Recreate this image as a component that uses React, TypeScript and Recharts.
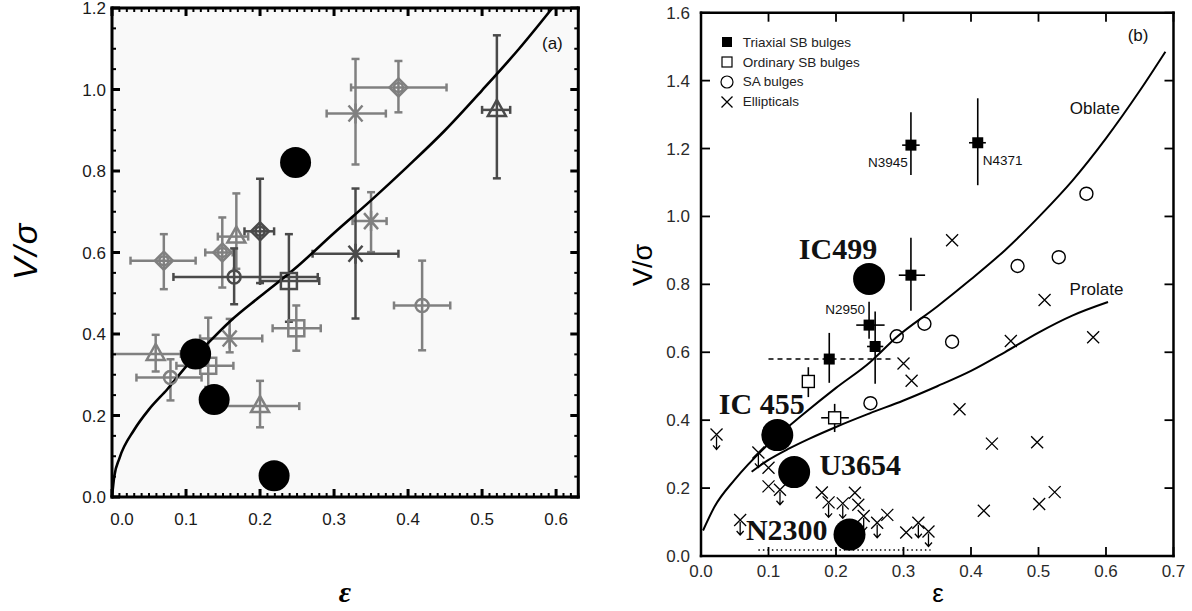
import React from 'react';
import { ComposedChart, Scatter, Line, XAxis, YAxis, ErrorBar, CartesianGrid, Legend } from 'recharts';

const FONT = '"Liberation Sans", Arial, Helvetica, sans-serif';
const SERIF = '"Liberation Serif", "Times New Roman", serif';
const GRAY = '#808080';
const DARK = '#4a4a4a';
const THIN = 0.01; // axes need a non-zero box to be drawn

// rows: [eps, V/sigma, epsLo, epsHi, vLo, vHi]
type Row = [number, number, number, number, number, number];
type Pt = { x: number; y: number };
type Note = { x: number; y: number; label: string };

// ---------------- panel (a) ----------------
const xTicksA = [0, 0.1, 0.2, 0.3, 0.4, 0.5, 0.6];
const yTicksA = [0, 0.2, 0.4, 0.6, 0.8, 1.0, 1.2];

const grayDiamondsA: Row[] = [
  [0.387, 1.005, 0.323, 0.452, 0.944, 1.07],
  [0.07, 0.58, 0.025, 0.113, 0.51, 0.645],
  [0.149, 0.6, 0.126, 0.163, 0.514, 0.686],
];
const darkDiamondsA: Row[] = [[0.2, 0.652, 0.179, 0.219, 0.525, 0.781]];
const grayTrianglesA: Row[] = [
  [0.168, 0.639, 0.143, 0.184, 0.56, 0.745],
  [0.059, 0.351, 0.0, 0.093, 0.308, 0.398],
  [0.2, 0.223, 0.15, 0.253, 0.171, 0.285],
];
const darkTrianglesA: Row[] = [[0.52, 0.95, 0.5, 0.538, 0.782, 1.133]];
const grayStarsA: Row[] = [
  [0.329, 0.941, 0.29, 0.37, 0.816, 1.075],
  [0.35, 0.677, 0.325, 0.371, 0.601, 0.748],
  [0.159, 0.389, 0.119, 0.203, 0.355, 0.437],
];
const darkStarsA: Row[] = [[0.329, 0.597, 0.271, 0.387, 0.438, 0.757]];
const grayCirclesA: Row[] = [
  [0.079, 0.293, 0.033, 0.121, 0.237, 0.338],
  [0.419, 0.47, 0.381, 0.457, 0.36, 0.58],
];
const darkCirclesA: Row[] = [[0.165, 0.54, 0.083, 0.278, 0.473, 0.61]];
const graySquaresA: Row[] = [
  [0.249, 0.414, 0.217, 0.282, 0.359, 0.47],
  [0.13, 0.322, 0.087, 0.164, 0.27, 0.44],
];
const darkSquaresA: Row[] = [[0.239, 0.53, 0.2, 0.28, 0.43, 0.645]];
const galaxiesA: Pt[] = [
  { x: 0.248, y: 0.821 },
  { x: 0.113, y: 0.351 },
  { x: 0.138, y: 0.239 },
  { x: 0.219, y: 0.052 },
];
const oblateA: Pt[] = [
  { x: 0, y: 0 }, { x: 0.003, y: 0.05 }, { x: 0.01, y: 0.095 }, { x: 0.03, y: 0.165 },
  { x: 0.05, y: 0.215 }, { x: 0.075, y: 0.265 }, { x: 0.1, y: 0.32 }, { x: 0.13, y: 0.378 },
  { x: 0.16, y: 0.432 }, { x: 0.2, y: 0.492 }, { x: 0.25, y: 0.565 }, { x: 0.3, y: 0.648 },
  { x: 0.35, y: 0.728 }, { x: 0.4, y: 0.812 }, { x: 0.45, y: 0.9 }, { x: 0.5, y: 0.998 },
  { x: 0.55, y: 1.1 }, { x: 0.595, y: 1.2 },
];
const notesA: Note[] = [{ x: 0.595, y: 1.113, label: '(a)' }];

// ---------------- panel (b) ----------------
const xTicksB = [0, 0.1, 0.2, 0.3, 0.4, 0.5, 0.6, 0.7];
const yTicksB = [0, 0.2, 0.4, 0.6, 0.8, 1.0, 1.2, 1.4, 1.6];

const triaxialB: Row[] = [
  [0.311, 1.21, 0.298, 0.324, 1.122, 1.307],
  [0.41, 1.217, 0.397, 0.422, 1.092, 1.348],
  [0.311, 0.827, 0.293, 0.332, 0.722, 0.937],
  [0.249, 0.68, 0.23, 0.272, 0.64, 0.749],
  [0.258, 0.617, 0.246, 0.27, 0.507, 0.72],
  [0.19, 0.58, 0.19, 0.19, 0.51, 0.657],
];
const triaxialDashedB: Row[] = [[0.19, 0.58, 0.1, 0.282, 0.58, 0.58]];
const ordinaryB: Row[] = [
  [0.159, 0.514, 0.159, 0.159, 0.468, 0.556],
  [0.198, 0.407, 0.178, 0.219, 0.365, 0.448],
];
const saBulgesB: Pt[] = [
  { x: 0.571, y: 1.067 }, { x: 0.469, y: 0.854 }, { x: 0.53, y: 0.88 }, { x: 0.331, y: 0.684 },
  { x: 0.372, y: 0.631 }, { x: 0.29, y: 0.647 }, { x: 0.251, y: 0.45 },
];
const ellipticalsB: Pt[] = [
  { x: 0.372, y: 0.93 }, { x: 0.509, y: 0.754 }, { x: 0.459, y: 0.633 }, { x: 0.581, y: 0.644 },
  { x: 0.3, y: 0.567 }, { x: 0.312, y: 0.516 }, { x: 0.383, y: 0.432 }, { x: 0.431, y: 0.331 },
  { x: 0.498, y: 0.335 }, { x: 0.524, y: 0.188 }, { x: 0.501, y: 0.153 }, { x: 0.419, y: 0.133 },
  { x: 0.1, y: 0.26 }, { x: 0.1, y: 0.205 }, { x: 0.179, y: 0.187 }, { x: 0.228, y: 0.186 },
  { x: 0.233, y: 0.151 }, { x: 0.276, y: 0.121 }, { x: 0.304, y: 0.069 },
];
const ellipticalLimitsB: Pt[] = [
  { x: 0.023, y: 0.358 }, { x: 0.085, y: 0.305 }, { x: 0.117, y: 0.195 }, { x: 0.058, y: 0.106 },
  { x: 0.189, y: 0.158 }, { x: 0.21, y: 0.155 }, { x: 0.241, y: 0.118 }, { x: 0.261, y: 0.098 },
  { x: 0.322, y: 0.098 }, { x: 0.337, y: 0.072 },
];
const n2300RangeB: Row[] = [[0.2125, 0.018, 0.085, 0.34, 0.018, 0.018]];
const galaxiesB: Pt[] = [
  { x: 0.249, y: 0.816 },
  { x: 0.113, y: 0.356 },
  { x: 0.138, y: 0.247 },
  { x: 0.22, y: 0.063 },
];
const oblateB: Pt[] = [
  { x: 0.003, y: 0.075 }, { x: 0.02, y: 0.145 }, { x: 0.05, y: 0.225 }, { x: 0.1, y: 0.33 },
  { x: 0.15, y: 0.415 }, { x: 0.2, y: 0.495 }, { x: 0.25, y: 0.57 }, { x: 0.29, y: 0.645 },
  { x: 0.35, y: 0.735 }, { x: 0.4, y: 0.815 }, { x: 0.45, y: 0.9 }, { x: 0.503, y: 1.004 },
  { x: 0.55, y: 1.105 }, { x: 0.6, y: 1.23 }, { x: 0.65, y: 1.37 }, { x: 0.688, y: 1.485 },
];
const prolateB: Pt[] = [
  { x: 0.075, y: 0.248 }, { x: 0.1, y: 0.283 }, { x: 0.13, y: 0.316 }, { x: 0.16, y: 0.345 },
  { x: 0.2, y: 0.38 }, { x: 0.25, y: 0.42 }, { x: 0.3, y: 0.458 }, { x: 0.35, y: 0.5 },
  { x: 0.4, y: 0.545 }, { x: 0.45, y: 0.6 }, { x: 0.5, y: 0.658 }, { x: 0.55, y: 0.708 },
  { x: 0.603, y: 0.748 },
];
const bigNamesB: Note[] = [
  { x: 0.203, y: 0.906, label: 'IC499' },
  { x: 0.09, y: 0.45, label: 'IC 455' },
  { x: 0.236, y: 0.268, label: 'U3654' },
  { x: 0.127, y: 0.077, label: 'N2300' },
];
const smallNamesB: Note[] = [
  { x: 0.277, y: 1.158, label: 'N3945' },
  { x: 0.447, y: 1.164, label: 'N4371' },
  { x: 0.2135, y: 0.727, label: 'N2950' },
];
const curveNamesB: Note[] = [
  { x: 0.5835, y: 1.317, label: 'Oblate' },
  { x: 0.586, y: 0.784, label: 'Prolate' },
  { x: 0.6475, y: 1.532, label: '(b)' },
];
const legendB = [
  { label: 'Triaxial SB bulges', kind: 'filled' },
  { label: 'Ordinary SB bulges', kind: 'open' },
  { label: 'SA bulges', kind: 'circle' },
  { label: 'Ellipticals', kind: 'cross' },
];

// ---------------- helpers ----------------
const toErr = (rows: Row[]) =>
  rows.map(([x, y, xLo, xHi, yLo, yHi]) => ({ x, y, ex: [x - xLo, xHi - x], ey: [y - yLo, yHi - y] }));

const steps = (from: number, to: number, step: number) => {
  const out: number[] = [];
  for (let v = from; v <= to + 1e-9; v += step) out.push(+v.toFixed(3));
  return out;
};
const isIn = (list: number[]) => (v: number) => list.some((t) => Math.abs(t - v) < 1e-6);
const none = () => <g />;

type Style = {
  left: number; bottom: number; majLen: number; minLen: number; majW: number; minW: number;
  xGap: number; yGap: number; zeroShift: number; fontSize: number; color: string;
};
const styleA: Style = {
  left: 112, bottom: 497, majLen: 8, minLen: 4, majW: 3, minW: 2,
  xGap: 16, yGap: 6, zeroShift: 10, fontSize: 17, color: '#1a1a1a',
};
const styleB: Style = {
  left: 101, bottom: 556, majLen: 9, minLen: 9, majW: 1.8, minW: 1.8,
  xGap: 9, yGap: 11, zeroShift: 0, fontSize: 17, color: '#2a2a2a',
};

// tick labels (major values only)
const xLabel = (s: Style, isMajor: (v: number) => boolean) => (p: any) => {
  const v = p.payload.value as number;
  if (!isMajor(v)) return <g />;
  return (
    <text x={p.x + (v === 0 ? s.zeroShift : 0)} y={s.bottom + s.xGap} dy="0.71em" textAnchor="middle"
      fontFamily={FONT} fontSize={s.fontSize} fill={s.color}>{v.toFixed(1)}</text>
  );
};
const yLabel = (s: Style, isMajor: (v: number) => boolean) => (p: any) => {
  const v = p.payload.value as number;
  if (!isMajor(v)) return <g />;
  return (
    <text x={s.left - s.yGap} y={p.y} dy="0.355em" textAnchor="end"
      fontFamily={FONT} fontSize={s.fontSize} fill={s.color}>{v.toFixed(1)}</text>
  );
};

// inward tick marks on the four frame edges, placed through the chart scales
const edgeMark = (side: string, s: Style) => ({ cx = 0, cy = 0, payload }: any) => {
  const len = payload.major ? s.majLen : s.minLen;
  const w = payload.major ? s.majW : s.minW;
  const d = side === 'b' ? `M${cx},${cy}V${cy - len}`
    : side === 't' ? `M${cx},${cy}V${cy + len}`
    : side === 'l' ? `M${cx},${cy}H${cx + len}`
    : `M${cx},${cy}H${cx - len}`;
  return <path d={d} stroke="#000" strokeWidth={w} fill="none" />;
};
const edgeTicks = (
  xd: number[], yd: number[], xs: number[], ys: number[],
  isMajX: (v: number) => boolean, isMajY: (v: number) => boolean, s: Style
) => {
  const bottom = xs.map((v) => ({ x: v, y: yd[0], major: isMajX(v) }));
  const top = xs.map((v) => ({ x: v, y: yd[1], major: isMajX(v) }));
  const left = ys.map((v) => ({ x: xd[0], y: v, major: isMajY(v) }));
  const right = ys.map((v) => ({ x: xd[1], y: v, major: isMajY(v) }));
  return [
    <Scatter key="eb" xAxisId="x" yAxisId="y" data={bottom} shape={edgeMark('b', s)} isAnimationActive={false} />,
    <Scatter key="et" xAxisId="x" yAxisId="y" data={top} shape={edgeMark('t', s)} isAnimationActive={false} />,
    <Scatter key="el" xAxisId="x" yAxisId="y" data={left} shape={edgeMark('l', s)} isAnimationActive={false} />,
    <Scatter key="er" xAxisId="x" yAxisId="y" data={right} shape={edgeMark('r', s)} isAnimationActive={false} />,
  ];
};

// top and right frame edges
const frameAxes = (xd: number[], yd: number[], sw: number) => {
  const al: any = { stroke: '#000', strokeWidth: sw, strokeLinecap: 'square' };
  return [
    <XAxis key="ft" xAxisId="ft" orientation="top" type="number" dataKey="x" domain={xd} height={THIN}
      tick={false} tickLine={false} axisLine={al} />,
    <YAxis key="fr" yAxisId="fr" orientation="right" type="number" dataKey="y" domain={yd} width={THIN}
      tick={false} tickLine={false} axisLine={al} />,
  ];
};

// ---------------- marker shapes ----------------
const diamondA = (c: string) => ({ cx = 0, cy = 0 }: any) => (
  <g stroke={c} strokeWidth={2.5} fill="none">
    <path d={`M${cx},${cy - 9}L${cx + 9},${cy}L${cx},${cy + 9}L${cx - 9},${cy}Z`} />
    <circle cx={cx} cy={cy} r={4.5} />
  </g>
);
const triangleA = (c: string) => ({ cx = 0, cy = 0 }: any) => (
  <path d={`M${cx},${cy - 10}L${cx + 9},${cy + 6}L${cx - 9},${cy + 6}Z`} stroke={c} strokeWidth={2.5} fill="none" />
);
const starA = (c: string) => ({ cx = 0, cy = 0 }: any) => (
  <path d={`M${cx - 7},${cy - 8}L${cx + 7},${cy + 8}M${cx + 7},${cy - 8}L${cx - 7},${cy + 8}M${cx},${cy - 10}L${cx},${cy + 10}`}
    stroke={c} strokeWidth={2.5} fill="none" />
);
const squareA = (c: string) => ({ cx = 0, cy = 0 }: any) => (
  <rect x={cx - 8} y={cy - 8} width={16} height={16} stroke={c} strokeWidth={2.5} fill="none" />
);
const circleA = (c: string) => ({ cx = 0, cy = 0 }: any) => (
  <circle cx={cx} cy={cy} r={6.5} stroke={c} strokeWidth={2.5} fill="none" />
);
const galaxy = (r: number) => ({ cx = 0, cy = 0 }: any) => <circle cx={cx} cy={cy} r={r} fill="#000" />;

const filledSq = ({ cx = 0, cy = 0 }: any) => <rect x={cx - 5.5} y={cy - 5.5} width={11} height={11} fill="#000" />;
const openSq = ({ cx = 0, cy = 0 }: any) => (
  <rect x={cx - 6} y={cy - 6} width={12} height={12} fill="#fff" stroke="#000" strokeWidth={1.4} />
);
const openCircle = ({ cx = 0, cy = 0 }: any) => (
  <circle cx={cx} cy={cy} r={6.5} fill="none" stroke="#000" strokeWidth={1.4} />
);
const cross = ({ cx = 0, cy = 0 }: any) => (
  <path d={`M${cx - 6},${cy - 6}L${cx + 6},${cy + 6}M${cx + 6},${cy - 6}L${cx - 6},${cy + 6}`} stroke="#000" strokeWidth={1.3} />
);
const crossLimit = ({ cx = 0, cy = 0 }: any) => (
  <path
    d={`M${cx - 6},${cy - 6}L${cx + 6},${cy + 6}M${cx + 6},${cy - 6}L${cx - 6},${cy + 6}M${cx},${cy + 2}L${cx},${cy + 15}M${cx - 3.5},${cy + 11}L${cx},${cy + 15}L${cx + 3.5},${cy + 11}`}
    stroke="#000" strokeWidth={1.3} fill="none" />
);
const textShape = (size: number, family: string, weight: string, color: string) => ({ cx = 0, cy = 0, payload }: any) => (
  <text x={cx} y={cy} textAnchor="middle" dominantBaseline="central" fontFamily={family}
    fontWeight={weight} fontSize={size} fill={color}>{payload.label}</text>
);

const seriesA = [
  { rows: grayDiamondsA, color: GRAY, shape: diamondA },
  { rows: grayTrianglesA, color: GRAY, shape: triangleA },
  { rows: grayStarsA, color: GRAY, shape: starA },
  { rows: grayCirclesA, color: GRAY, shape: circleA },
  { rows: graySquaresA, color: GRAY, shape: squareA },
  { rows: darkDiamondsA, color: DARK, shape: diamondA },
  { rows: darkTrianglesA, color: DARK, shape: triangleA },
  { rows: darkStarsA, color: DARK, shape: starA },
  { rows: darkCirclesA, color: DARK, shape: circleA },
  { rows: darkSquaresA, color: DARK, shape: squareA },
];

function PanelA() {
  const xd = [0, 0.63];
  const yd = [0, 1.2];
  const axisLine: any = { stroke: '#000', strokeWidth: 3, strokeLinecap: 'square' };
  return (
    <ComposedChart width={600} height={611} margin={{ top: 8, right: 21.7, bottom: 114, left: 112 }}>
      <CartesianGrid xAxisId="x" yAxisId="y" horizontal={false} vertical={false} fill="#f9f9f9" stroke="none" />
      <XAxis xAxisId="x" type="number" dataKey="x" domain={xd} ticks={xTicksA} interval={0} height={THIN}
        tickSize={0} tickMargin={0} tickLine={false} tick={xLabel(styleA, isIn(xTicksA))} axisLine={axisLine} />
      <YAxis yAxisId="y" type="number" dataKey="y" domain={yd} ticks={yTicksA} interval={0} width={THIN}
        tickSize={0} tickMargin={0} tickLine={false} tick={yLabel(styleA, isIn(yTicksA))} axisLine={axisLine} />
      {frameAxes(xd, yd, 3)}
      {edgeTicks(xd, yd, steps(0, 0.63, 0.01), steps(0, 1.2, 0.05), isIn(xTicksA), isIn(yTicksA), styleA)}
      {seriesA.map((s, i) => (
        <Scatter key={i} xAxisId="x" yAxisId="y" data={toErr(s.rows)} shape={s.shape(s.color)} isAnimationActive={false}>
          <ErrorBar dataKey="ex" direction="x" width={4} stroke={s.color} strokeWidth={2.5} />
          <ErrorBar dataKey="ey" direction="y" width={4} stroke={s.color} strokeWidth={2.5} />
        </Scatter>
      ))}
      <Line xAxisId="x" yAxisId="y" data={oblateA} dataKey="y" type="monotone" stroke="#000" strokeWidth={2.6}
        dot={false} isAnimationActive={false} />
      <Scatter xAxisId="x" yAxisId="y" data={galaxiesA} shape={galaxy(15.5)} isAnimationActive={false} />
      <Scatter xAxisId="x" yAxisId="y" data={notesA} shape={textShape(17, FONT, 'normal', '#111')} isAnimationActive={false} />
    </ComposedChart>
  );
}

const LegendSymbol = ({ kind }: { kind: string }) => (
  <svg width={16} height={16} style={{ display: 'block' }}>
    {kind === 'filled' && <rect x={3} y={3} width={10} height={10} fill="#000" />}
    {kind === 'open' && <rect x={3} y={3} width={10} height={10} fill="#fff" stroke="#000" strokeWidth={1.2} />}
    {kind === 'circle' && <circle cx={8} cy={8} r={6} fill="none" stroke="#000" strokeWidth={1.2} />}
    {kind === 'cross' && <path d="M2.5,2.5L13.5,13.5M13.5,2.5L2.5,13.5" stroke="#000" strokeWidth={1.3} />}
  </svg>
);

const LegendContentB = () => (
  <div style={{ fontFamily: FONT, fontSize: 13.5, color: '#222' }}>
    {legendB.map((it) => (
      <div key={it.label} style={{ display: 'flex', alignItems: 'center', height: 19.7, whiteSpace: 'nowrap' }}>
        <LegendSymbol kind={it.kind} />
        <span style={{ marginLeft: 7.4 }}>{it.label}</span>
      </div>
    ))}
  </div>
);

function PanelB() {
  const xd = [0, 0.7];
  const yd = [0, 1.6];
  const bar = { stroke: '#000', strokeWidth: 1.6, width: 0 };
  const axisLine: any = { stroke: '#000', strokeWidth: 2.5, strokeLinecap: 'square' };
  return (
    <ComposedChart width={592} height={611} margin={{ top: 12.7, right: 18.5, bottom: 55, left: 101 }}>
      <XAxis xAxisId="x" type="number" dataKey="x" domain={xd} ticks={xTicksB} interval={0} height={THIN}
        tickSize={0} tickMargin={0} tickLine={false} tick={xLabel(styleB, isIn(xTicksB))} axisLine={axisLine} />
      <YAxis yAxisId="y" type="number" dataKey="y" domain={yd} ticks={yTicksB} interval={0} width={THIN}
        tickSize={0} tickMargin={0} tickLine={false} tick={yLabel(styleB, isIn(yTicksB))} axisLine={axisLine} />
      {frameAxes(xd, yd, 2.5)}
      {edgeTicks(xd, yd, xTicksB, yTicksB, isIn(xTicksB), isIn(yTicksB), styleB)}
      <Legend layout="vertical" align="center" verticalAlign="middle" content={LegendContentB}
        wrapperStyle={{ position: 'absolute', left: 119.3, top: 32.6, width: 'auto', height: 'auto' }} />
      <Line xAxisId="x" yAxisId="y" data={oblateB} dataKey="y" type="monotone" stroke="#000" strokeWidth={2}
        dot={false} isAnimationActive={false} />
      <Line xAxisId="x" yAxisId="y" data={prolateB} dataKey="y" type="monotone" stroke="#000" strokeWidth={2}
        dot={false} isAnimationActive={false} />
      <Scatter xAxisId="x" yAxisId="y" data={ellipticalsB} shape={cross} isAnimationActive={false} />
      <Scatter xAxisId="x" yAxisId="y" data={ellipticalLimitsB} shape={crossLimit} isAnimationActive={false} />
      <Scatter xAxisId="x" yAxisId="y" data={saBulgesB} shape={openCircle} isAnimationActive={false} />
      <Scatter xAxisId="x" yAxisId="y" data={toErr(n2300RangeB)} shape={none} isAnimationActive={false}>
        <ErrorBar dataKey="ex" direction="x" width={0} stroke="#000" strokeWidth={1.5} strokeDasharray="1.5 3" />
      </Scatter>
      <Scatter xAxisId="x" yAxisId="y" data={toErr(triaxialDashedB)} shape={none} isAnimationActive={false}>
        <ErrorBar dataKey="ex" direction="x" width={0} stroke="#000" strokeWidth={1.5} strokeDasharray="5 4" />
      </Scatter>
      <Scatter xAxisId="x" yAxisId="y" data={toErr(ordinaryB)} shape={openSq} isAnimationActive={false}>
        <ErrorBar dataKey="ex" direction="x" {...bar} />
        <ErrorBar dataKey="ey" direction="y" {...bar} />
      </Scatter>
      <Scatter xAxisId="x" yAxisId="y" data={toErr(triaxialB)} shape={filledSq} isAnimationActive={false}>
        <ErrorBar dataKey="ex" direction="x" {...bar} />
        <ErrorBar dataKey="ey" direction="y" {...bar} />
      </Scatter>
      <Scatter xAxisId="x" yAxisId="y" data={galaxiesB} shape={galaxy(16)} isAnimationActive={false} />
      <Scatter xAxisId="x" yAxisId="y" data={bigNamesB} shape={textShape(30, SERIF, 'bold', '#111')} isAnimationActive={false} />
      <Scatter xAxisId="x" yAxisId="y" data={smallNamesB} shape={textShape(13.5, FONT, 'normal', '#111')} isAnimationActive={false} />
      <Scatter xAxisId="x" yAxisId="y" data={curveNamesB} shape={textShape(17, FONT, 'normal', '#111')} isAnimationActive={false} />
    </ComposedChart>
  );
}

const AxisTitle = ({ x, y, rotate, style, children }: any) => (
  <div style={{
    position: 'absolute', left: x, top: y, transform: `translate(-50%, -50%) rotate(${rotate || 0}deg)`,
    whiteSpace: 'nowrap', lineHeight: 1.2, color: '#000', ...style,
  }}>{children}</div>
);

export default function App() {
  return (
    <div style={{ position: 'absolute', left: 0, top: 0, width: 1192, height: 611, background: '#fff', overflow: 'hidden' }}>
      <div style={{ position: 'absolute', left: 0, top: 0 }}><PanelA /></div>
      <div style={{ position: 'absolute', left: 600, top: 0 }}><PanelB /></div>
      <AxisTitle x={25} y={251} rotate={-90} style={{ fontFamily: FONT, fontStyle: 'italic', fontSize: 34, letterSpacing: 2 }}>V/σ</AxisTitle>
      <AxisTitle x={345} y={592} style={{ fontFamily: SERIF, fontStyle: 'italic', fontWeight: 'bold', fontSize: 30 }}>ε</AxisTitle>
      <AxisTitle x={643} y={265} rotate={-90} style={{ fontFamily: FONT, fontSize: 27 }}>V/σ</AxisTitle>
      <AxisTitle x={938} y={594} style={{ fontFamily: FONT, fontSize: 26 }}>ε</AxisTitle>
    </div>
  );
}
